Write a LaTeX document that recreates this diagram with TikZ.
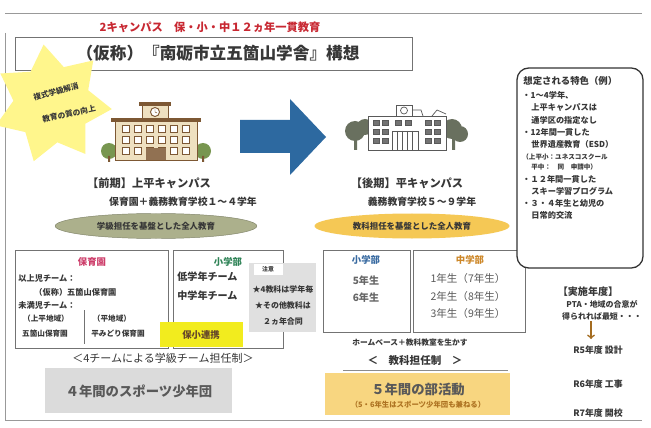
\documentclass[tikz,border=0pt]{standalone}
\usepackage{fontspec}
\setmainfont{Noto Sans CJK JP}
\usetikzlibrary{shapes.geometric}
\definecolor{cink}{RGB}{55,55,55}
\definecolor{cred}{RGB}{200,40,50}
\definecolor{cnavy}{RGB}{45,105,160}
\definecolor{colive}{RGB}{172,176,140}
\definecolor{cgold}{RGB}{245,200,85}
\definecolor{cyel}{RGB}{242,236,30}
\definecolor{cstar}{RGB}{255,246,140}
\definecolor{cpink}{RGB}{205,60,105}
\definecolor{cgreen}{RGB}{45,130,85}
\definecolor{cblue}{RGB}{55,105,160}
\definecolor{corange}{RGB}{205,135,40}
\definecolor{ctan}{RGB}{238,224,192}
\definecolor{cbrown}{RGB}{125,88,52}
\definecolor{ctree}{RGB}{120,150,80}
\definecolor{cdark}{RGB}{105,112,95}
\tikzset{gokasec/.style={x=0.03cm,y=-0.03cm,text=cink,inner sep=1pt,font=\bfseries\fontsize{7}{8}\selectfont},
  txt/.style={font=\bfseries\fontsize{#1}{#1}\selectfont},
  pageline/.style={draw=black!40,line width=0.6pt},
  unitbox/.style={draw=black!55,line width=0.5pt}}

\begin{document}
\begin{tikzpicture}[gokasec]
    \fill[white] (0,0) rectangle (651,428);
    \useasboundingbox (0,0) rectangle (651,428);
    % page frame
    \draw[pageline] (5,13) -- (642,13);
    \draw[pageline] (5,33) -- (5,420) -- (642,420);
    % heading
    \node[txt=9.6,text=cred] (catch) at (210,27) {2キャンパス　保・小・中１２ヵ年一貫教育};
    \draw[unitbox,line width=0.7pt] (15,37) rectangle (412,70);
    \node[txt=14.2] (title) at (218,53) {（仮称）『南砺市立五箇山学舎』構想};
    % star
    \node[star,star points=7,star point ratio=1.55,fill=cstar,minimum size=3.6cm,rotate=8] (burst) at (52,104) {};
    \node[txt=6.6,rotate=15] (star1) at (56,92) {複式学級解消};
    \node[txt=6.6,rotate=12] (star2) at (69,114) {教育の質の向上};
    % first campus building
    \fill[ctree] (109,151) circle (8) (203,151) circle (8);
    \fill[cbrown] (108,156) rectangle (110,162) (202,156) rectangle (204,162);
    \filldraw[fill=ctan,draw=cbrown,line width=0.6pt] (115,121) rectangle (197,160);
    \fill[cbrown] (111,118) rectangle (201,122);
    \filldraw[fill=ctan,draw=cbrown,line width=0.6pt] (142,105) rectangle (168,118);
    \fill[cbrown] (139,102) rectangle (171,106);
    \draw[cbrown,fill=white,line width=0.8pt] (155,112) circle (4.5);
    \draw[cbrown] (155,112) -- (155,109) (155,112) -- (157,113);
    \foreach \c in {0,...,5} \foreach \r in {0,1,2}
      \filldraw[fill=white,draw=cbrown,line width=0.5pt] ({122+\c*12},{125+\r*11}) rectangle +(7,7);
    \fill[cbrown!85] (146,148) rectangle (166,160);
    % arrow between campuses
    \fill[cnavy] (240,120) -- (290,120) -- (290,99) -- (326,137) -- (290,175) -- (290,153) -- (240,153) -- cycle;
    % second campus building
    \fill[cdark] (355,131) circle (10) (365,127) circle (8) (452,129) circle (10) (460,134) circle (8);
    \fill[cdark] (354,138) rectangle (357,150) (452,138) rectangle (455,150);
    \filldraw[fill=white,draw=black!65,line width=0.6pt] (368,116) rectangle (446,150);
    \filldraw[fill=white,draw=black!65,line width=0.6pt] (396,105) rectangle (412,116);
    \draw[black!65,line width=0.6pt] (412,110) -- (421,110) -- (423,116) (432,116) -- (437,110) -- (446,114);
    \draw[black!65,line width=0.6pt] (404,110.5) circle (3.5);
    \foreach \x in {373,382,425,434} \foreach \y in {120,129,138}
      \filldraw[fill=black!55,draw=black!65] (\x,\y) rectangle +(6,5);
    \foreach \x in {395,405} \filldraw[fill=black!55,draw=black!65] (\x,120) rectangle +(6,5);
    \draw[black!65,line width=0.5pt] (392,131) rectangle (418,150);
    \foreach \x in {397,402,407,412} \draw[black!65,line width=0.5pt] (\x,131) -- (\x,150);
    % campus captions
    \node[txt=9.6] (early) at (149,183) {【前期】上平キャンパス};
    \node[txt=8.4] (earlysub) at (183,202) {保育園＋義務教育学校１～４学年};
    \node[ellipse,fill=colive,draw=colive!75!black,minimum width=6.05cm,minimum height=0.75cm,txt=7.2] (earlyoval) at (156,226) {学級担任を基盤とした全人教育};
    \node[txt=9.6] (late) at (407,183) {【後期】平キャンパス};
    \node[txt=8.4] (latesub) at (422,202) {義務教育学校５～９学年};
    \node[ellipse,fill=cgold,minimum width=5.85cm,minimum height=0.75cm,txt=7.2] (lateoval) at (412,226) {教科担任を基盤とした全人教育};
    % nursery unit
    \draw[unitbox] (15,250) rectangle (168,348);
    \node[txt=8,text=cpink] (nursery) at (92,262) {保育園};
    \node[anchor=west] (older) at (17,278) {以上児チーム：};
    \node[anchor=west] (oldername) at (33,292) {（仮称）五箇山保育園};
    \node[anchor=west] (younger) at (17,305) {未満児チーム：};
    \node[txt=6.5] (kamiarea) at (46,319) {（上平地域）};
    \node[txt=6.5] (kaminame) at (45,334) {五箇山保育園};
    \node[txt=6.5] (tairaarea) at (112,319) {（平地域）};
    \node[txt=6.5] (tairaname) at (118,334) {平みどり保育園};
    \draw[black!55,line width=0.5pt] (84,310) -- (84,344);
    % lower primary unit
    \draw[unitbox] (173,250) rectangle (283,348);
    \node[txt=8,text=cgreen] (lowprim) at (228,262) {小学部};
    \node[anchor=west,txt=8.6] (lowteam) at (176,277) {低学年チーム};
    \node[anchor=west,txt=8.6] (midteam) at (176,296) {中学年チーム};
    \fill[black!12] (249,263) rectangle (316,332);
    \fill[white] (254,264) rectangle (283,275);
    \node[txt=5] (notetab) at (268,269.5) {注意};
    \node[txt=6.8] (note1) at (283,289) {★4教科は学年毎};
    \node[txt=6.8] (note2) at (283,305) {★その他教科は};
    \node[txt=6.8] (note3) at (283,321) {２ヵ年合同};
    \fill[cyel] (160,322) rectangle (243,347);
    \node[txt=8,text=cbrown!80!black] (link) at (201,335) {保小連携};
    \node[font=\fontsize{9.4}{9.4}\selectfont] (teams) at (163,358) {＜4チームによる学級チーム担任制＞};
    \fill[black!14] (45,368) rectangle (232,413);
    \node[txt=11.4,text=black!65] (sport4) at (139,391) {４年間のスポーツ少年団};
    % upper units
    \draw[unitbox] (323,250) rectangle (410,332);
    \node[txt=8,text=cblue] (upprim) at (366,260) {小学部};
    \node[txt=8.6,text=black!60] (grade5) at (366,281) {5年生};
    \node[txt=8.6,text=black!60] (grade6) at (366,298) {6年生};
    \draw[unitbox] (413,250) rectangle (525,332);
    \node[txt=8,text=corange] (junior) at (470,260) {中学部};
    \node[font=\fontsize{9}{9}\selectfont,text=black!65] (grade7) at (468,278) {1年生（7年生）};
    \node[font=\fontsize{9}{9}\selectfont,text=black!65] (grade8) at (468,296) {2年生（8年生）};
    \node[font=\fontsize{9}{9}\selectfont,text=black!65] (grade9) at (468,313) {3年生（9年生）};
    \node[txt=6.6] (homebase) at (410,343) {ホームベース＋教科教室を生かす};
    \node[txt=9] (subject) at (415,361) {＜　教科担任制　＞};
    \draw[black!45,line width=0.5pt] (343,370) -- (508,370);
    \fill[cgold!75] (325,373) rectangle (510,415);
    \node[txt=11.4,text=black!65] (club5) at (418,389) {５年間の部活動};
    \node[txt=6.3,text=corange!85!black] (clubnote) at (418,405) {（5・6年生はスポーツ少年団も兼ねる）};
    % features panel
    \draw[fill=white,draw=black!80,line width=1.1pt,rounded corners=10pt] (517,68) rectangle (643,268);
    \node[anchor=west,txt=8] (feathead) at (522,81) {想定される特色（例）};
    \foreach \n/\x/\y/\s/\t in {1/521/95/7/・1～4学年、,2/530/107/7/上平キャンパスは,3/530/120/7/通学区の指定なし,
        4/521/132/7/・12年間一貫した,5/530/144/7/世界遺産教育（ESD）,6/521/157/5.6/（上平小：ユネスコスクール,
        7/530/167/5.6/平中：　同　申請中）,8/521/179/7/・１２年間一貫した,9/530/191/7/スキー学習プログラム,
        10/521/203/7/・３・４年生と幼児の,11/530/215/7/日常的交流}
      \node[anchor=west,txt=\s] (feat\n) at (\x,\y) {\t};
    % schedule
    \node[txt=8.6] (yrhead) at (588,292) {【実施年度】};
    \node[txt=6.8] (pta1) at (602,304) {PTA・地域の合意が};
    \node[txt=6.8] (pta2) at (602,316) {得られれば最短・・・};
    \node[txt=7.6] (r5) at (598,350) {R5年度 設計};
    \node[txt=7.6] (r6) at (598,384) {R6年度 工事};
    \node[txt=7.6] (r7) at (598,413) {R7年度 開校};
    \coordinate (yrtip) at (591,339);
    \draw[->,corange!80!black,line width=1.4pt] (pta2.south -| yrtip) -- (yrtip);
\end{tikzpicture}
\end{document}
